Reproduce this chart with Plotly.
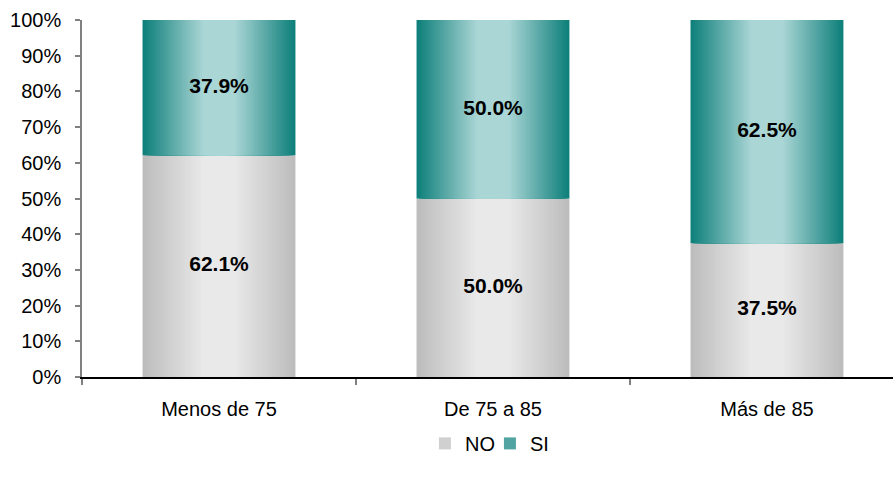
import plotly.graph_objects as go

categories = ["Menos de 75", "De 75 a 85", "Más de 85"]
no_values = [62.1, 50.0, 37.5]
si_values = [37.9, 50.0, 62.5]
series_names = ["NO", "SI"]
y_ticks = [0, 10, 20, 30, 40, 50, 60, 70, 80, 90, 100]
y_tick_labels = ["0%", "10%", "20%", "30%", "40%", "50%", "60%", "70%", "80%", "90%", "100%"]

FONT = "Liberation Sans, Arial, sans-serif"
BAR_W = 0.558
N_LAYERS = 36

grey_edge, grey_center = (188, 188, 188), (233, 233, 233)
teal_edge, teal_center = (12, 126, 121), (171, 214, 214)


def mix(a, b, t):
    return "rgb(%d,%d,%d)" % tuple(round(a[i] + (b[i] - a[i]) * t) for i in range(3))


fig = go.Figure()

for name, bases, vals, edge, center in [
    ("NO", [0, 0, 0], no_values, grey_edge, grey_center),
    ("SI", no_values, si_values, teal_edge, teal_center),
]:
    for k in range(N_LAYERS):
        d_out = 1 - k / N_LAYERS
        d_mid = 1 - (k + 0.5) / N_LAYERS
        t = min(1.0, (1 - d_mid) / 0.8)
        col = mix(edge, center, t)
        show = k == N_LAYERS // 3
        fig.add_trace(go.Bar(
            x=categories, y=vals, base=bases,
            width=BAR_W * d_out,
            marker=dict(color=col, line=dict(width=0)),
            name=name, legendgroup=name, showlegend=show,
            hoverinfo="skip",
        ))

# value labels
label_x, label_y, label_t = [], [], []
for i, c in enumerate(categories):
    label_x += [c, c]
    label_y += [no_values[i] / 2, no_values[i] + si_values[i] / 2]
    label_t += ["%.1f%%" % no_values[i], "%.1f%%" % si_values[i]]
fig.add_trace(go.Scatter(
    x=label_x, y=label_y, text=label_t, mode="text",
    textfont=dict(family=FONT, size=21, color="black", weight="bold"),
    showlegend=False, hoverinfo="skip",
))

fig.update_layout(
    width=893, height=485,
    margin=dict(l=82, r=0, t=20, b=108),
    barmode="overlay",
    plot_bgcolor="white", paper_bgcolor="white",
    font=dict(family=FONT, size=20, color="black"),
    showlegend=True,
    legend=dict(orientation="h", x=0.503, xanchor="center", y=-0.186, yanchor="middle",
                font=dict(family=FONT, size=20, color="black"),
                traceorder="normal", itemwidth=30, entrywidth=20, tracegroupgap=0),
    xaxis=dict(
        range=[-0.5, 2.46], showgrid=False, zeroline=False,
        showline=True, linecolor="black", linewidth=1.5,
        ticks="outside", tickson="boundaries", ticklen=6, tickcolor="#808080", tickwidth=1.5,
        tickfont=dict(family=FONT, size=20, color="black"),
        ticklabelstandoff=13,
    ),
    yaxis=dict(
        range=[0, 100], tickvals=y_ticks, ticktext=y_tick_labels, showgrid=False, zeroline=False,
        showline=True, linecolor="#808080", linewidth=1.5,
        ticks="outside", ticklen=5, tickcolor="#808080", tickwidth=1.5,
        tickfont=dict(family=FONT, size=20, color="black"),
        ticklabelstandoff=10,
    ),
)

fig.write_html("out.html")
